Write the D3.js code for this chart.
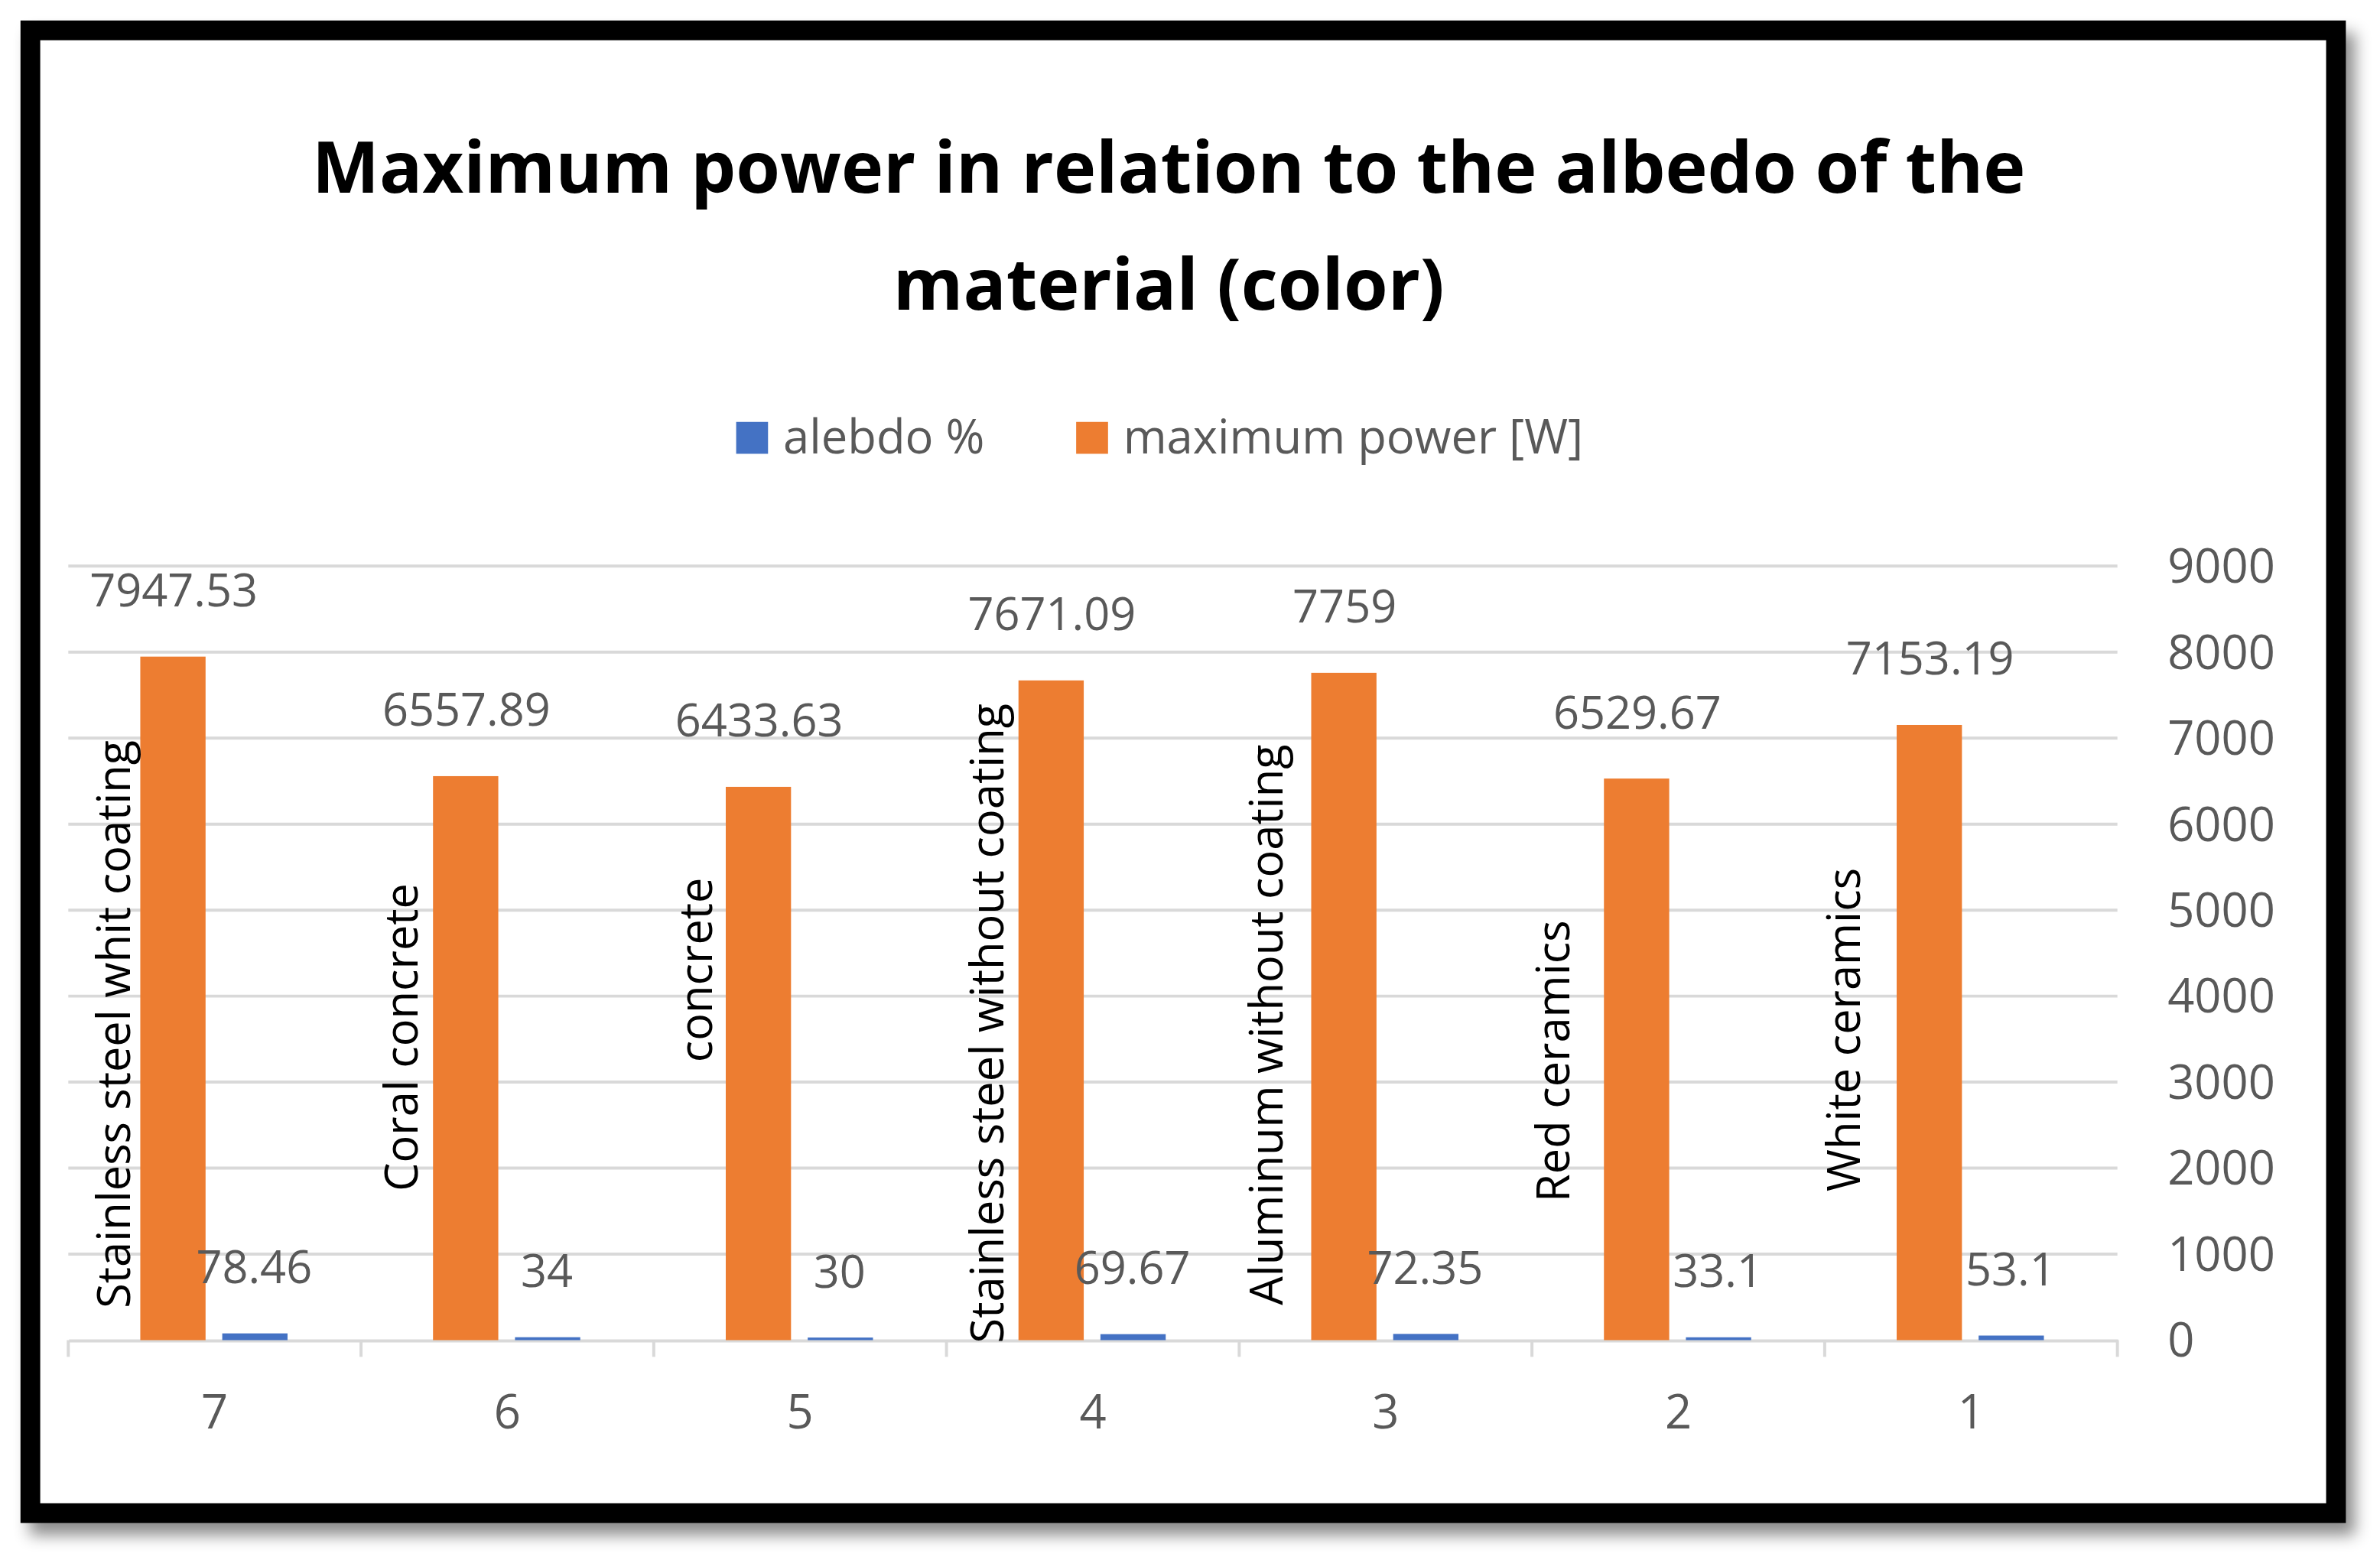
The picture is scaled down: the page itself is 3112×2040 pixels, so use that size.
<!DOCTYPE html>
<html>
<head>
<meta charset="utf-8">
<script src="https://cdn.jsdelivr.net/npm/d3@7"></script>
<style>
  html, body { margin: 0; padding: 0; background: #fff; }
  svg { display: block; }
</style>
</head>
<body>
<div id="chart"></div>
<script>
// data
const categories = ["7", "6", "5", "4", "3", "2", "1"];
const materials = ["Stainless steel whit coating", "Coral concrete", "concrete",
  "Stainless steel without coating", "Aluminum without coating", "Red ceramics", "White ceramics"];
const albedo = [78.46, 34, 30, 69.67, 72.35, 33.1, 53.1];
const maxPower = [7947.53, 6557.89, 6433.63, 7671.09, 7759, 6529.67, 7153.19];
const yTicks = [0, 1000, 2000, 3000, 4000, 5000, 6000, 7000, 8000, 9000];
// material label placement (x offset from category centre, bottom y)
const matDx = [-67, -70, -69, -70, -79, -83, -84];
const matBottom = [862, 785, 700, 885, 860, 792, 785];

const W = 1568, H = 3112 ? 1568 * 2040 / 3112 : 1028;
const svg = d3.select("#chart").append("svg")
  .attr("width", 3112).attr("height", 2040)
  .attr("viewBox", `0 0 ${W} ${H}`);

const defs = svg.append("defs");
const f = defs.append("filter").attr("id", "shadow").attr("x", "-5%").attr("y", "-5%").attr("width", "115%").attr("height", "115%");
f.append("feDropShadow").attr("dx", 6).attr("dy", 8).attr("stdDeviation", 5).attr("flood-color", "#000").attr("flood-opacity", 0.45);

// frame
svg.append("rect").attr("x", 20).attr("y", 20).attr("width", 1519).attr("height", 977)
  .attr("fill", "#fff").attr("stroke", "#000").attr("stroke-width", 13).attr("filter", "url(#shadow)");

const font = "'Open Sans', 'Noto Sans', sans-serif";
const grey = "#595959";

// title
svg.append("text").attr("x", 770).attr("y", 127).attr("text-anchor", "middle")
  .attr("font-family", font).attr("font-weight", 700).attr("font-size", 47).attr("fill", "#000")
  .text("Maximum power in relation to the albedo of the");
svg.append("text").attr("x", 770).attr("y", 204).attr("text-anchor", "middle")
  .attr("font-family", font).attr("font-weight", 700).attr("font-size", 47).attr("fill", "#000")
  .text("material (color)");

// legend
const blue = "#4472c4", orange = "#ed7d31";
const legend = [["alebdo %", blue, 485], ["maximum power [W]", orange, 709]];
legend.forEach(([t, c, x]) => {
  svg.append("rect").attr("x", x).attr("y", 278).attr("width", 21).attr("height", 21).attr("fill", c);
  svg.append("text").attr("x", x + 31).attr("y", 299).attr("font-family", font)
    .attr("font-size", 31).attr("fill", grey).text(t);
});

// scales
const x = d3.scaleBand().domain(categories).range([45, 1395]);
const y = d3.scaleLinear().domain([0, 9000]).range([883, 373]);

// gridlines
svg.append("g").selectAll("line").data(yTicks.slice(1)).join("line")
  .attr("x1", 45).attr("x2", 1395).attr("y1", d => y(d)).attr("y2", d => y(d))
  .attr("stroke", "#d9d9d9").attr("stroke-width", 2);

// right axis labels
svg.append("g").selectAll("text").data(yTicks).join("text")
  .attr("x", 1428).attr("y", d => y(d) + 11)
  .attr("font-family", font).attr("font-size", 31).attr("fill", grey).text(d => d);

// bottom axis
const xAxis = svg.append("g").attr("transform", `translate(0,${y(0)})`)
  .call(d3.axisBottom(x).tickSize(0).tickPadding(36));
xAxis.select(".domain").attr("stroke", "#d9d9d9").attr("stroke-width", 2);
xAxis.selectAll("text").attr("font-family", font).attr("font-size", 31).attr("fill", grey);
svg.append("g").selectAll("line").data(d3.range(categories.length + 1)).join("line")
  .attr("x1", i => 45 + i * x.bandwidth()).attr("x2", i => 45 + i * x.bandwidth())
  .attr("y1", y(0)).attr("y2", y(0) + 11).attr("stroke", "#d9d9d9").attr("stroke-width", 2);

const cx = i => x(categories[i]) + x.bandwidth() / 2;

// bars
const bars = svg.append("g");
bars.selectAll("rect.p").data(maxPower).join("rect").attr("class", "p")
  .attr("x", (d, i) => cx(i) - 49).attr("width", 43)
  .attr("y", d => y(d)).attr("height", d => y(0) - y(d)).attr("fill", orange);
bars.selectAll("rect.a").data(albedo).join("rect").attr("class", "a")
  .attr("x", (d, i) => cx(i) + 5).attr("width", 43)
  .attr("y", d => y(d)).attr("height", d => y(0) - y(d)).attr("fill", blue);

// value labels
const lbl = svg.append("g").attr("font-family", font).attr("font-size", 30).attr("fill", grey).attr("text-anchor", "middle");
lbl.selectAll("text.p").data(maxPower).join("text").attr("class", "p")
  .attr("x", (d, i) => cx(i) - 27).attr("y", d => y(d) - 33).text(d => d);
lbl.selectAll("text.a").data(albedo).join("text").attr("class", "a")
  .attr("x", (d, i) => cx(i) + 26).attr("y", d => y(d) - 33).text(d => d);

// material labels
svg.append("g").selectAll("text").data(materials).join("text")
  .attr("transform", (d, i) => `translate(${cx(i) + matDx[i] + 11},${matBottom[i]}) rotate(-90)`)
  .attr("font-family", font).attr("font-size", 30).attr("fill", "#000").text(d => d);
</script>
</body>
</html>
